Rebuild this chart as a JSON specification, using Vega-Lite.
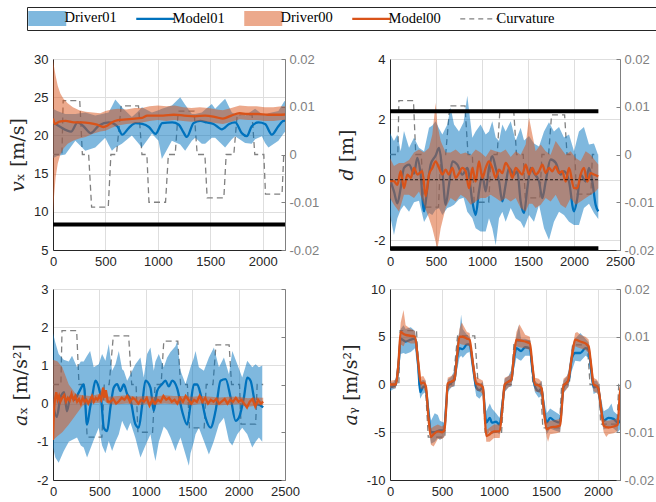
{
"$schema": "https://vega.github.io/schema/vega-lite/v6.json",
"background": "white",
"padding": {"left": 8, "top": 6, "right": 0, "bottom": 0},
"config": {
  "view": {"stroke": "#c8c8c8", "strokeWidth": 1},
  "axis": {"labelFont": "Liberation Sans", "labelFontSize": 13, "labelColor": "#262626", "domainColor": "#262626", "domainWidth": 1, "gridColor": "#dedede", "gridWidth": 1, "ticks": false, "titleFont": "DejaVu Serif", "titleFontSize": 19, "titleFontWeight": "normal", "titleColor": "#262626", "labelPadding": 5, "labelFlush": false, "labelOverlap": false}
},
"datasets": {
"curv": [{"s":0,"k":0},{"s":85,"k":0},{"s":97,"k":0.0113},{"s":255,"k":0.0113},{"s":280,"k":0},{"s":340,"k":0},{"s":368,"k":-0.011},{"s":527,"k":-0.011},{"s":552,"k":0},{"s":605,"k":0},{"s":650,"k":0.0102},{"s":815,"k":0.0102},{"s":848,"k":0},{"s":895,"k":0},{"s":915,"k":-0.01},{"s":1073,"k":-0.01},{"s":1100,"k":0},{"s":1165,"k":0},{"s":1194,"k":0.0091},{"s":1345,"k":0.0091},{"s":1375,"k":0},{"s":1448,"k":0},{"s":1470,"k":-0.0091},{"s":1629,"k":-0.0091},{"s":1651,"k":0},{"s":1724,"k":0},{"s":1756,"k":0.0083},{"s":1898,"k":0.0083},{"s":1924,"k":0},{"s":2010,"k":0},{"s":2026,"k":-0.0083},{"s":2184,"k":-0.0083},{"s":2200,"k":0},{"s":2265,"k":0}],
"lim": [{"panel":"vx","id":"a","s":0,"v":8.33},{"panel":"vx","id":"a","s":2270,"v":8.33},{"panel":"d","id":"up","s":0,"v":2.27},{"panel":"d","id":"up","s":2265,"v":2.27},{"panel":"d","id":"lo","s":0,"v":-2.27},{"panel":"d","id":"lo","s":2265,"v":-2.27},{"panel":"d0","id":"zero","s":0,"v":0},{"panel":"d0","id":"zero","s":2265,"v":0}],
"vx": [
{"series":"Driver01","s":0,"v":17.0,"v2":23.5},{"series":"Driver01","s":40,"v":17.3,"v2":23.2},{"series":"Driver01","s":117,"v":17.5,"v2":22.8},{"series":"Driver01","s":213,"v":19.3,"v2":22.8},{"series":"Driver01","s":308,"v":18.0,"v2":23.0},{"series":"Driver01","s":403,"v":18.4,"v2":22.6},{"series":"Driver01","s":498,"v":19.7,"v2":22.9},{"series":"Driver01","s":530,"v":18.8,"v2":23.0},{"series":"Driver01","s":562,"v":18.0,"v2":23.8},{"series":"Driver01","s":594,"v":18.4,"v2":24.7},{"series":"Driver01","s":657,"v":18.9,"v2":23.7},{"series":"Driver01","s":752,"v":20.0,"v2":22.4},{"series":"Driver01","s":800,"v":19.2,"v2":23.0},{"series":"Driver01","s":848,"v":18.4,"v2":23.7},{"series":"Driver01","s":943,"v":20.2,"v2":23.0},{"series":"Driver01","s":1006,"v":19.3,"v2":23.3},{"series":"Driver01","s":1038,"v":16.9,"v2":23.5},{"series":"Driver01","s":1133,"v":19.3,"v2":23.9},{"series":"Driver01","s":1213,"v":18.8,"v2":25.0},{"series":"Driver01","s":1260,"v":18.0,"v2":24.0},{"series":"Driver01","s":1324,"v":19.3,"v2":22.8},{"series":"Driver01","s":1356,"v":19.7,"v2":22.8},{"series":"Driver01","s":1419,"v":18.9,"v2":23.0},{"series":"Driver01","s":1451,"v":18.9,"v2":23.4},{"series":"Driver01","s":1514,"v":19.7,"v2":24.1},{"series":"Driver01","s":1546,"v":19.7,"v2":23.5},{"series":"Driver01","s":1641,"v":18.4,"v2":24.8},{"series":"Driver01","s":1705,"v":19.5,"v2":23.0},{"series":"Driver01","s":1736,"v":19.9,"v2":22.8},{"series":"Driver01","s":1800,"v":19.3,"v2":22.6},{"series":"Driver01","s":1832,"v":19.0,"v2":22.6},{"series":"Driver01","s":1895,"v":18.9,"v2":23.2},{"series":"Driver01","s":1927,"v":19.5,"v2":23.5},{"series":"Driver01","s":1991,"v":19.9,"v2":22.8},{"series":"Driver01","s":2022,"v":19.0,"v2":22.6},{"series":"Driver01","s":2054,"v":18.4,"v2":22.9},{"series":"Driver01","s":2149,"v":19.3,"v2":23.2},{"series":"Driver01","s":2207,"v":20.4,"v2":24.5},{"series":"Driver01","s":2240,"v":20.5,"v2":24.3},{"series":"Driver01","s":2270,"v":20.6,"v2":24.0},
{"series":"Model01","s":0,"v":21.7},{"series":"Model01","s":60,"v":21.2},{"series":"Model01","s":172,"v":20.5},{"series":"Model01","s":235,"v":21.7},{"series":"Model01","s":290,"v":21.2},{"series":"Model01","s":360,"v":20.3},{"series":"Model01","s":438,"v":21.3},{"series":"Model01","s":533,"v":21.7},{"series":"Model01","s":613,"v":21.2},{"series":"Model01","s":660,"v":20.1},{"series":"Model01","s":724,"v":21.0},{"series":"Model01","s":787,"v":21.6},{"series":"Model01","s":851,"v":21.5},{"series":"Model01","s":914,"v":21.1},{"series":"Model01","s":978,"v":20.2},{"series":"Model01","s":1041,"v":21.6},{"series":"Model01","s":1137,"v":21.7},{"series":"Model01","s":1200,"v":21.4},{"series":"Model01","s":1240,"v":20.5},{"series":"Model01","s":1276,"v":19.8},{"series":"Model01","s":1340,"v":21.6},{"series":"Model01","s":1403,"v":21.9},{"series":"Model01","s":1467,"v":21.7},{"series":"Model01","s":1530,"v":21.5},{"series":"Model01","s":1610,"v":20.8},{"series":"Model01","s":1680,"v":21.5},{"series":"Model01","s":1737,"v":21.7},{"series":"Model01","s":1800,"v":20.3},{"series":"Model01","s":1848,"v":19.9},{"series":"Model01","s":1895,"v":21.2},{"series":"Model01","s":1959,"v":21.7},{"series":"Model01","s":2022,"v":21.5},{"series":"Model01","s":2086,"v":20.1},{"series":"Model01","s":2149,"v":21.2},{"series":"Model01","s":2197,"v":21.9},{"series":"Model01","s":2270,"v":22.0},
{"series":"Driver00","s":0,"v":9.5,"v2":30.0},{"series":"Driver00","s":10,"v":12.0,"v2":29.0},{"series":"Driver00","s":25,"v":14.5,"v2":27.8},{"series":"Driver00","s":45,"v":16.3,"v2":26.5},{"series":"Driver00","s":70,"v":17.5,"v2":25.5},{"series":"Driver00","s":100,"v":18.3,"v2":24.8},{"series":"Driver00","s":140,"v":18.9,"v2":24.2},{"series":"Driver00","s":190,"v":19.3,"v2":23.7},{"series":"Driver00","s":250,"v":19.6,"v2":23.3},{"series":"Driver00","s":310,"v":19.8,"v2":23.1},{"series":"Driver00","s":380,"v":20.2,"v2":23.0},{"series":"Driver00","s":450,"v":20.5,"v2":22.9},{"series":"Driver00","s":500,"v":20.6,"v2":23.2},{"series":"Driver00","s":560,"v":21.0,"v2":23.4},{"series":"Driver00","s":620,"v":21.3,"v2":23.5},{"series":"Driver00","s":700,"v":21.5,"v2":23.4},{"series":"Driver00","s":780,"v":21.6,"v2":23.6},{"series":"Driver00","s":850,"v":21.7,"v2":23.6},{"series":"Driver00","s":920,"v":21.9,"v2":23.8},{"series":"Driver00","s":1000,"v":22.0,"v2":23.9},{"series":"Driver00","s":1080,"v":21.9,"v2":23.8},{"series":"Driver00","s":1160,"v":22.0,"v2":23.9},{"series":"Driver00","s":1240,"v":21.9,"v2":23.7},{"series":"Driver00","s":1320,"v":21.8,"v2":23.6},{"series":"Driver00","s":1400,"v":21.9,"v2":23.7},{"series":"Driver00","s":1480,"v":21.8,"v2":23.6},{"series":"Driver00","s":1560,"v":21.6,"v2":23.4},{"series":"Driver00","s":1620,"v":21.5,"v2":23.3},{"series":"Driver00","s":1700,"v":21.8,"v2":23.6},{"series":"Driver00","s":1780,"v":22.1,"v2":23.9},{"series":"Driver00","s":1860,"v":22.0,"v2":23.8},{"series":"Driver00","s":1940,"v":22.0,"v2":23.8},{"series":"Driver00","s":2020,"v":21.9,"v2":23.7},{"series":"Driver00","s":2100,"v":21.9,"v2":23.7},{"series":"Driver00","s":2180,"v":22.0,"v2":23.8},{"series":"Driver00","s":2270,"v":22.0,"v2":23.8},
{"series":"Model00","s":0,"v":22.2},{"series":"Model00","s":20,"v":21.5},{"series":"Model00","s":60,"v":21.8},{"series":"Model00","s":120,"v":21.9},{"series":"Model00","s":200,"v":21.7},{"series":"Model00","s":280,"v":21.7},{"series":"Model00","s":350,"v":21.6},{"series":"Model00","s":420,"v":21.4},{"series":"Model00","s":480,"v":21.1},{"series":"Model00","s":520,"v":21.3},{"series":"Model00","s":560,"v":21.7},{"series":"Model00","s":620,"v":22.0},{"series":"Model00","s":700,"v":22.1},{"series":"Model00","s":780,"v":22.2},{"series":"Model00","s":850,"v":22.3},{"series":"Model00","s":900,"v":22.6},{"series":"Model00","s":960,"v":22.6},{"series":"Model00","s":1050,"v":22.6},{"series":"Model00","s":1150,"v":22.7},{"series":"Model00","s":1250,"v":22.6},{"series":"Model00","s":1350,"v":22.5},{"series":"Model00","s":1450,"v":22.6},{"series":"Model00","s":1550,"v":22.4},{"series":"Model00","s":1620,"v":22.2},{"series":"Model00","s":1700,"v":22.6},{"series":"Model00","s":1780,"v":22.9},{"series":"Model00","s":1850,"v":22.8},{"series":"Model00","s":1950,"v":22.8},{"series":"Model00","s":2050,"v":22.7},{"series":"Model00","s":2150,"v":22.7},{"series":"Model00","s":2270,"v":22.8}
],
"dd": [
{"series":"Driver01","s":0,"v":-1.17,"v2":1.55},{"series":"Driver01","s":43,"v":-1.83,"v2":1.28},{"series":"Driver01","s":80,"v":-1.28,"v2":1.5},{"series":"Driver01","s":116,"v":-1.0,"v2":0.94},{"series":"Driver01","s":152,"v":-0.85,"v2":1.61},{"series":"Driver01","s":207,"v":-1.06,"v2":1.06},{"series":"Driver01","s":261,"v":-0.75,"v2":1.39},{"series":"Driver01","s":315,"v":-0.7,"v2":1.06},{"series":"Driver01","s":370,"v":-1.4,"v2":0.94},{"series":"Driver01","s":424,"v":-1.1,"v2":1.72},{"series":"Driver01","s":460,"v":-1.17,"v2":1.8},{"series":"Driver01","s":496,"v":-1.0,"v2":1.94},{"series":"Driver01","s":533,"v":-0.95,"v2":1.7},{"series":"Driver01","s":569,"v":-1.17,"v2":1.5},{"series":"Driver01","s":623,"v":-0.94,"v2":1.83},{"series":"Driver01","s":659,"v":-0.9,"v2":2.39},{"series":"Driver01","s":696,"v":-0.83,"v2":1.83},{"series":"Driver01","s":750,"v":-0.65,"v2":1.6},{"series":"Driver01","s":800,"v":-0.6,"v2":1.9},{"series":"Driver01","s":840,"v":-1.06,"v2":2.78},{"series":"Driver01","s":895,"v":-1.28,"v2":1.39},{"series":"Driver01","s":931,"v":-1.61,"v2":1.6},{"series":"Driver01","s":985,"v":-1.72,"v2":1.83},{"series":"Driver01","s":1040,"v":-1.72,"v2":1.5},{"series":"Driver01","s":1076,"v":-1.28,"v2":1.6},{"series":"Driver01","s":1112,"v":-1.61,"v2":1.94},{"series":"Driver01","s":1149,"v":-2.17,"v2":1.4},{"series":"Driver01","s":1185,"v":-1.28,"v2":1.28},{"series":"Driver01","s":1221,"v":-1.06,"v2":1.83},{"series":"Driver01","s":1257,"v":-1.39,"v2":1.6},{"series":"Driver01","s":1312,"v":-0.94,"v2":1.94},{"series":"Driver01","s":1366,"v":-1.28,"v2":1.28},{"series":"Driver01","s":1420,"v":-1.39,"v2":1.72},{"series":"Driver01","s":1457,"v":-1.61,"v2":1.3},{"series":"Driver01","s":1511,"v":-1.17,"v2":1.45},{"series":"Driver01","s":1565,"v":-1.39,"v2":1.2},{"series":"Driver01","s":1620,"v":-0.83,"v2":1.1},{"series":"Driver01","s":1674,"v":-1.61,"v2":1.6},{"series":"Driver01","s":1728,"v":-2.0,"v2":1.9},{"series":"Driver01","s":1782,"v":-1.39,"v2":1.6},{"series":"Driver01","s":1837,"v":-1.06,"v2":1.75},{"series":"Driver01","s":1891,"v":-1.17,"v2":1.4},{"series":"Driver01","s":1946,"v":-1.39,"v2":1.5},{"series":"Driver01","s":2000,"v":-1.5,"v2":0.94},{"series":"Driver01","s":2054,"v":-1.5,"v2":1.6},{"series":"Driver01","s":2108,"v":-0.94,"v2":1.75},{"series":"Driver01","s":2163,"v":-0.8,"v2":1.17},{"series":"Driver01","s":2217,"v":-1.1,"v2":1.2},{"series":"Driver01","s":2264,"v":-1.3,"v2":0.8},
{"series":"Model01","s":0,"v":0},{"series":"Model01","s":43,"v":-0.39},{"series":"Model01","s":80,"v":-0.78},{"series":"Model01","s":116,"v":-0.28},{"series":"Model01","s":152,"v":0.39},{"series":"Model01","s":207,"v":0.5},{"series":"Model01","s":261,"v":0.2},{"series":"Model01","s":297,"v":0.72},{"series":"Model01","s":333,"v":0.17},{"series":"Model01","s":370,"v":-1.05},{"series":"Model01","s":406,"v":-0.28},{"series":"Model01","s":442,"v":0.5},{"series":"Model01","s":496,"v":0.8},{"series":"Model01","s":533,"v":1.05},{"series":"Model01","s":569,"v":0.28},{"series":"Model01","s":605,"v":-0.83},{"series":"Model01","s":641,"v":-0.17},{"series":"Model01","s":678,"v":0.61},{"series":"Model01","s":732,"v":0.5},{"series":"Model01","s":786,"v":0.17},{"series":"Model01","s":841,"v":0.39},{"series":"Model01","s":895,"v":-0.72},{"series":"Model01","s":931,"v":-1.17},{"series":"Model01","s":967,"v":-0.39},{"series":"Model01","s":1004,"v":0.17},{"series":"Model01","s":1040,"v":-0.39},{"series":"Model01","s":1076,"v":0.39},{"series":"Model01","s":1112,"v":0.78},{"series":"Model01","s":1149,"v":0.39},{"series":"Model01","s":1185,"v":-0.06},{"series":"Model01","s":1221,"v":-0.72},{"series":"Model01","s":1257,"v":-0.17},{"series":"Model01","s":1293,"v":0.39},{"series":"Model01","s":1348,"v":0.17},{"series":"Model01","s":1384,"v":0.28},{"series":"Model01","s":1420,"v":-0.72},{"series":"Model01","s":1457,"v":-1.11},{"series":"Model01","s":1493,"v":-0.28},{"series":"Model01","s":1529,"v":0.39},{"series":"Model01","s":1565,"v":0.22},{"series":"Model01","s":1620,"v":-0.06},{"series":"Model01","s":1656,"v":-0.61},{"series":"Model01","s":1692,"v":-0.06},{"series":"Model01","s":1746,"v":0.67},{"series":"Model01","s":1801,"v":0.56},{"series":"Model01","s":1855,"v":0.17},{"series":"Model01","s":1891,"v":0.28},{"series":"Model01","s":1946,"v":-0.06},{"series":"Model01","s":2000,"v":-1.05},{"series":"Model01","s":2036,"v":-0.61},{"series":"Model01","s":2072,"v":0.17},{"series":"Model01","s":2127,"v":-0.06},{"series":"Model01","s":2163,"v":0.39},{"series":"Model01","s":2199,"v":-0.06},{"series":"Model01","s":2235,"v":-0.83},{"series":"Model01","s":2264,"v":-1.05},
{"series":"Driver00","s":0,"v":-0.61,"v2":0.72},{"series":"Driver00","s":43,"v":-0.83,"v2":0.45},{"series":"Driver00","s":98,"v":-1.05,"v2":0.55},{"series":"Driver00","s":152,"v":-0.5,"v2":0.55},{"series":"Driver00","s":207,"v":-0.5,"v2":0.65},{"series":"Driver00","s":261,"v":-0.61,"v2":0.9},{"series":"Driver00","s":315,"v":-0.39,"v2":1.0},{"series":"Driver00","s":370,"v":-0.83,"v2":0.9},{"series":"Driver00","s":424,"v":-1.28,"v2":1.05},{"series":"Driver00","s":460,"v":-1.61,"v2":1.5},{"series":"Driver00","s":496,"v":-2.06,"v2":2.55},{"series":"Driver00","s":514,"v":-2.33,"v2":1.83},{"series":"Driver00","s":551,"v":-1.61,"v2":1.28},{"series":"Driver00","s":605,"v":-0.94,"v2":0.9},{"series":"Driver00","s":659,"v":-0.61,"v2":0.9},{"series":"Driver00","s":714,"v":-0.72,"v2":1.0},{"series":"Driver00","s":768,"v":-0.5,"v2":0.85},{"series":"Driver00","s":822,"v":-0.61,"v2":0.9},{"series":"Driver00","s":877,"v":-0.83,"v2":0.8},{"series":"Driver00","s":931,"v":-0.72,"v2":1.0},{"series":"Driver00","s":985,"v":-0.61,"v2":0.9},{"series":"Driver00","s":1040,"v":-0.61,"v2":0.75},{"series":"Driver00","s":1094,"v":-0.5,"v2":1.0},{"series":"Driver00","s":1149,"v":-0.61,"v2":0.94},{"series":"Driver00","s":1203,"v":-0.72,"v2":0.9},{"series":"Driver00","s":1257,"v":-0.61,"v2":1.0},{"series":"Driver00","s":1312,"v":-0.72,"v2":0.75},{"series":"Driver00","s":1366,"v":-0.61,"v2":0.94},{"series":"Driver00","s":1420,"v":-0.94,"v2":0.83},{"series":"Driver00","s":1475,"v":-1.05,"v2":1.17},{"series":"Driver00","s":1511,"v":-0.8,"v2":2.06},{"series":"Driver00","s":1547,"v":-0.8,"v2":1.5},{"series":"Driver00","s":1583,"v":-0.94,"v2":0.94},{"series":"Driver00","s":1638,"v":-0.83,"v2":1.17},{"series":"Driver00","s":1692,"v":-0.61,"v2":0.94},{"series":"Driver00","s":1746,"v":-0.72,"v2":0.83},{"series":"Driver00","s":1801,"v":-0.5,"v2":1.28},{"series":"Driver00","s":1855,"v":-0.83,"v2":1.05},{"series":"Driver00","s":1909,"v":-0.94,"v2":0.83},{"series":"Driver00","s":1964,"v":-0.61,"v2":0.94},{"series":"Driver00","s":2018,"v":-0.83,"v2":0.72},{"series":"Driver00","s":2072,"v":-0.72,"v2":0.61},{"series":"Driver00","s":2127,"v":-0.61,"v2":0.94},{"series":"Driver00","s":2181,"v":-0.5,"v2":0.83},{"series":"Driver00","s":2235,"v":-0.39,"v2":0.61},{"series":"Driver00","s":2264,"v":-0.28,"v2":0.5},
{"series":"Model00","s":0,"v":-0.05},{"series":"Model00","s":43,"v":-0.05},{"series":"Model00","s":80,"v":-0.17},{"series":"Model00","s":116,"v":0.28},{"series":"Model00","s":152,"v":-0.28},{"series":"Model00","s":188,"v":0.17},{"series":"Model00","s":225,"v":0.06},{"series":"Model00","s":261,"v":0.39},{"series":"Model00","s":297,"v":0.17},{"series":"Model00","s":351,"v":0.28},{"series":"Model00","s":388,"v":-0.55},{"series":"Model00","s":424,"v":0.17},{"series":"Model00","s":460,"v":0.39},{"series":"Model00","s":496,"v":0.61},{"series":"Model00","s":533,"v":0.39},{"series":"Model00","s":569,"v":0.17},{"series":"Model00","s":605,"v":0.33},{"series":"Model00","s":641,"v":0.17},{"series":"Model00","s":678,"v":0.39},{"series":"Model00","s":714,"v":0.06},{"series":"Model00","s":750,"v":0.22},{"series":"Model00","s":786,"v":0.39},{"series":"Model00","s":822,"v":0.28},{"series":"Model00","s":859,"v":-0.28},{"series":"Model00","s":895,"v":0.39},{"series":"Model00","s":931,"v":-0.06},{"series":"Model00","s":967,"v":0.61},{"series":"Model00","s":1004,"v":0.06},{"series":"Model00","s":1040,"v":0.39},{"series":"Model00","s":1076,"v":0.61},{"series":"Model00","s":1112,"v":0.39},{"series":"Model00","s":1149,"v":0.06},{"series":"Model00","s":1185,"v":0.33},{"series":"Model00","s":1221,"v":0.22},{"series":"Model00","s":1257,"v":0.56},{"series":"Model00","s":1293,"v":0.39},{"series":"Model00","s":1330,"v":0.06},{"series":"Model00","s":1366,"v":0.39},{"series":"Model00","s":1402,"v":0.28},{"series":"Model00","s":1438,"v":0.17},{"series":"Model00","s":1475,"v":0.5},{"series":"Model00","s":1511,"v":0.17},{"series":"Model00","s":1547,"v":0.39},{"series":"Model00","s":1583,"v":0.17},{"series":"Model00","s":1620,"v":0.28},{"series":"Model00","s":1656,"v":0.5},{"series":"Model00","s":1692,"v":0.22},{"series":"Model00","s":1728,"v":0.39},{"series":"Model00","s":1764,"v":0.28},{"series":"Model00","s":1801,"v":0.44},{"series":"Model00","s":1837,"v":0.22},{"series":"Model00","s":1873,"v":0.28},{"series":"Model00","s":1909,"v":-0.06},{"series":"Model00","s":1946,"v":0.39},{"series":"Model00","s":2000,"v":-0.28},{"series":"Model00","s":2036,"v":-0.28},{"series":"Model00","s":2072,"v":0.17},{"series":"Model00","s":2108,"v":0.39},{"series":"Model00","s":2145,"v":-0.06},{"series":"Model00","s":2181,"v":0.22},{"series":"Model00","s":2217,"v":0.17},{"series":"Model00","s":2264,"v":0.11}
],
"ax": [
{"series":"Driver01","s":0,"v":-1.15,"v2":1.85},{"series":"Driver01","s":25,"v":-1.41,"v2":1.6},{"series":"Driver01","s":61,"v":-1.55,"v2":1.3},{"series":"Driver01","s":115,"v":-1.25,"v2":1.15},{"series":"Driver01","s":170,"v":-1.0,"v2":1.1},{"series":"Driver01","s":205,"v":-0.95,"v2":1.25},{"series":"Driver01","s":259,"v":-0.89,"v2":0.95},{"series":"Driver01","s":300,"v":-1.1,"v2":1.1},{"series":"Driver01","s":331,"v":-1.15,"v2":1.1},{"series":"Driver01","s":367,"v":-1.41,"v2":1.25},{"series":"Driver01","s":400,"v":-1.2,"v2":1.38},{"series":"Driver01","s":439,"v":-0.95,"v2":0.95},{"series":"Driver01","s":493,"v":-0.63,"v2":1.03},{"series":"Driver01","s":529,"v":-1.1,"v2":1.3},{"series":"Driver01","s":565,"v":-1.3,"v2":1.12},{"series":"Driver01","s":601,"v":-0.98,"v2":1.56},{"series":"Driver01","s":637,"v":-1.24,"v2":0.86},{"series":"Driver01","s":673,"v":-1.0,"v2":1.03},{"series":"Driver01","s":709,"v":-0.8,"v2":1.38},{"series":"Driver01","s":745,"v":-0.45,"v2":0.9},{"series":"Driver01","s":763,"v":-0.55,"v2":0.86},{"series":"Driver01","s":799,"v":-0.72,"v2":0.6},{"series":"Driver01","s":835,"v":-0.5,"v2":0.77},{"series":"Driver01","s":888,"v":-0.9,"v2":1.03},{"series":"Driver01","s":942,"v":-1.41,"v2":1.21},{"series":"Driver01","s":978,"v":-1.2,"v2":0.68},{"series":"Driver01","s":1014,"v":-1.0,"v2":1.3},{"series":"Driver01","s":1050,"v":-0.8,"v2":1.47},{"series":"Driver01","s":1086,"v":-1.3,"v2":0.86},{"series":"Driver01","s":1104,"v":-1.5,"v2":1.1},{"series":"Driver01","s":1140,"v":-1.0,"v2":1.3},{"series":"Driver01","s":1194,"v":-0.6,"v2":0.95},{"series":"Driver01","s":1230,"v":-0.7,"v2":1.21},{"series":"Driver01","s":1266,"v":-0.89,"v2":1.35},{"series":"Driver01","s":1320,"v":-1.24,"v2":1.5},{"series":"Driver01","s":1338,"v":-1.1,"v2":1.64},{"series":"Driver01","s":1374,"v":-0.89,"v2":0.86},{"series":"Driver01","s":1428,"v":-1.33,"v2":0.51},{"series":"Driver01","s":1464,"v":-1.63,"v2":0.8},{"series":"Driver01","s":1482,"v":-1.3,"v2":0.95},{"series":"Driver01","s":1518,"v":-1.0,"v2":1.2},{"series":"Driver01","s":1536,"v":-0.8,"v2":1.38},{"series":"Driver01","s":1572,"v":-0.63,"v2":0.95},{"series":"Driver01","s":1626,"v":-0.98,"v2":0.86},{"series":"Driver01","s":1680,"v":-1.33,"v2":1.21},{"series":"Driver01","s":1734,"v":-0.98,"v2":1.47},{"series":"Driver01","s":1788,"v":-0.54,"v2":0.95},{"series":"Driver01","s":1842,"v":-0.37,"v2":1.21},{"series":"Driver01","s":1896,"v":-0.98,"v2":0.77},{"series":"Driver01","s":1932,"v":-1.1,"v2":1.38},{"series":"Driver01","s":1986,"v":-0.8,"v2":1.03},{"series":"Driver01","s":2039,"v":-0.63,"v2":0.68},{"series":"Driver01","s":2093,"v":-0.8,"v2":1.12},{"series":"Driver01","s":2147,"v":-1.15,"v2":0.95},{"series":"Driver01","s":2183,"v":-1.0,"v2":1.03},{"series":"Driver01","s":2219,"v":-0.89,"v2":0.95},{"series":"Driver01","s":2255,"v":-1.0,"v2":1.0},
{"series":"Model01","s":0,"v":0.0},{"series":"Model01","s":40,"v":-0.35},{"series":"Model01","s":80,"v":0.15},{"series":"Model01","s":120,"v":0.3},{"series":"Model01","s":150,"v":-0.2},{"series":"Model01","s":190,"v":0.2},{"series":"Model01","s":230,"v":0.1},{"series":"Model01","s":280,"v":0.3},{"series":"Model01","s":331,"v":0.5},{"series":"Model01","s":367,"v":-0.55},{"series":"Model01","s":400,"v":-0.1},{"series":"Model01","s":421,"v":0.16},{"series":"Model01","s":457,"v":0.6},{"series":"Model01","s":493,"v":0.42},{"series":"Model01","s":520,"v":0.1},{"series":"Model01","s":547,"v":-0.63},{"series":"Model01","s":583,"v":-0.72},{"series":"Model01","s":619,"v":-0.1},{"series":"Model01","s":655,"v":0.42},{"series":"Model01","s":691,"v":0.51},{"series":"Model01","s":727,"v":0.33},{"series":"Model01","s":763,"v":0.5},{"series":"Model01","s":799,"v":0.25},{"series":"Model01","s":835,"v":0.1},{"series":"Model01","s":888,"v":-0.54},{"series":"Model01","s":924,"v":-0.63},{"series":"Model01","s":960,"v":-0.05},{"series":"Model01","s":996,"v":0.6},{"series":"Model01","s":1050,"v":0.42},{"series":"Model01","s":1086,"v":-0.19},{"series":"Model01","s":1122,"v":0.33},{"series":"Model01","s":1176,"v":0.51},{"series":"Model01","s":1212,"v":0.6},{"series":"Model01","s":1248,"v":0.45},{"series":"Model01","s":1284,"v":0.6},{"series":"Model01","s":1338,"v":0.4},{"series":"Model01","s":1392,"v":-0.2},{"series":"Model01","s":1446,"v":-0.55},{"series":"Model01","s":1482,"v":-0.02},{"series":"Model01","s":1518,"v":0.5},{"series":"Model01","s":1554,"v":0.5},{"series":"Model01","s":1590,"v":0.25},{"series":"Model01","s":1644,"v":-0.37},{"series":"Model01","s":1698,"v":-0.63},{"series":"Model01","s":1752,"v":-0.19},{"series":"Model01","s":1806,"v":0.6},{"series":"Model01","s":1860,"v":0.64},{"series":"Model01","s":1914,"v":0.16},{"series":"Model01","s":1968,"v":-0.45},{"series":"Model01","s":2003,"v":-0.37},{"series":"Model01","s":2057,"v":0.16},{"series":"Model01","s":2093,"v":0.68},{"series":"Model01","s":2129,"v":0.6},{"series":"Model01","s":2183,"v":0.0},{"series":"Model01","s":2237,"v":-0.05},{"series":"Model01","s":2265,"v":-0.1},
{"series":"Driver00","s":0,"v":-0.95,"v2":1.15},{"series":"Driver00","s":50,"v":-0.85,"v2":1.1},{"series":"Driver00","s":100,"v":-0.75,"v2":0.95},{"series":"Driver00","s":170,"v":-0.55,"v2":0.5},{"series":"Driver00","s":245,"v":-0.3,"v2":0.25},{"series":"Driver00","s":320,"v":-0.05,"v2":0.22},{"series":"Driver00","s":400,"v":0.0,"v2":0.2},{"series":"Driver00","s":500,"v":0.02,"v2":0.25},{"series":"Driver00","s":540,"v":0.1,"v2":0.45},{"series":"Driver00","s":600,"v":-0.02,"v2":0.18},{"series":"Driver00","s":700,"v":-0.02,"v2":0.2},{"series":"Driver00","s":800,"v":0.0,"v2":0.22},{"series":"Driver00","s":900,"v":-0.04,"v2":0.18},{"series":"Driver00","s":1000,"v":-0.02,"v2":0.2},{"series":"Driver00","s":1100,"v":-0.03,"v2":0.18},{"series":"Driver00","s":1200,"v":0.0,"v2":0.22},{"series":"Driver00","s":1300,"v":-0.02,"v2":0.2},{"series":"Driver00","s":1400,"v":-0.02,"v2":0.2},{"series":"Driver00","s":1500,"v":-0.04,"v2":0.18},{"series":"Driver00","s":1600,"v":0.0,"v2":0.2},{"series":"Driver00","s":1700,"v":-0.03,"v2":0.18},{"series":"Driver00","s":1800,"v":-0.04,"v2":0.16},{"series":"Driver00","s":1900,"v":-0.03,"v2":0.18},{"series":"Driver00","s":2000,"v":-0.02,"v2":0.18},{"series":"Driver00","s":2100,"v":-0.08,"v2":0.14},{"series":"Driver00","s":2200,"v":-0.05,"v2":0.16},{"series":"Driver00","s":2265,"v":-0.04,"v2":0.15},
{"series":"Model00","s":0,"v":-0.95},{"series":"Model00","s":10,"v":-0.2},{"series":"Model00","s":20,"v":0.1},{"series":"Model00","s":35,"v":0.3},{"series":"Model00","s":50,"v":0.1},{"series":"Model00","s":65,"v":0.2},{"series":"Model00","s":80,"v":0.05},{"series":"Model00","s":100,"v":0.15},{"series":"Model00","s":120,"v":0.22},{"series":"Model00","s":140,"v":0.05},{"series":"Model00","s":160,"v":0.15},{"series":"Model00","s":180,"v":0.08},{"series":"Model00","s":200,"v":0.25},{"series":"Model00","s":220,"v":0.1},{"series":"Model00","s":240,"v":0.2},{"series":"Model00","s":260,"v":0.05},{"series":"Model00","s":280,"v":0.12},{"series":"Model00","s":300,"v":0.0},{"series":"Model00","s":320,"v":0.15},{"series":"Model00","s":340,"v":0.05},{"series":"Model00","s":360,"v":0.1},{"series":"Model00","s":380,"v":0.0},{"series":"Model00","s":400,"v":0.1},{"series":"Model00","s":420,"v":0.2},{"series":"Model00","s":440,"v":0.05},{"series":"Model00","s":460,"v":0.15},{"series":"Model00","s":480,"v":0.1},{"series":"Model00","s":500,"v":0.2},{"series":"Model00","s":520,"v":0.1},{"series":"Model00","s":540,"v":0.42},{"series":"Model00","s":555,"v":0.15},{"series":"Model00","s":570,"v":0.35},{"series":"Model00","s":590,"v":0.05},{"series":"Model00","s":620,"v":0.05},{"series":"Model00","s":650,"v":0.12},{"series":"Model00","s":680,"v":0.0},{"series":"Model00","s":710,"v":0.06},{"series":"Model00","s":740,"v":0.15},{"series":"Model00","s":770,"v":0.1},{"series":"Model00","s":800,"v":0.2},{"series":"Model00","s":830,"v":0.05},{"series":"Model00","s":860,"v":0.15},{"series":"Model00","s":890,"v":0.1},{"series":"Model00","s":920,"v":0.0},{"series":"Model00","s":950,"v":0.1},{"series":"Model00","s":980,"v":0.05},{"series":"Model00","s":1010,"v":0.15},{"series":"Model00","s":1040,"v":-0.05},{"series":"Model00","s":1070,"v":0.1},{"series":"Model00","s":1100,"v":0.0},{"series":"Model00","s":1130,"v":0.1},{"series":"Model00","s":1160,"v":0.05},{"series":"Model00","s":1190,"v":0.2},{"series":"Model00","s":1220,"v":0.1},{"series":"Model00","s":1250,"v":0.15},{"series":"Model00","s":1280,"v":0.05},{"series":"Model00","s":1310,"v":0.1},{"series":"Model00","s":1340,"v":0.0},{"series":"Model00","s":1370,"v":0.15},{"series":"Model00","s":1400,"v":0.05},{"series":"Model00","s":1430,"v":0.2},{"series":"Model00","s":1460,"v":0.1},{"series":"Model00","s":1490,"v":0.0},{"series":"Model00","s":1520,"v":0.1},{"series":"Model00","s":1550,"v":0.05},{"series":"Model00","s":1580,"v":0.2},{"series":"Model00","s":1610,"v":0.05},{"series":"Model00","s":1640,"v":0.15},{"series":"Model00","s":1670,"v":0.0},{"series":"Model00","s":1700,"v":0.1},{"series":"Model00","s":1730,"v":0.05},{"series":"Model00","s":1760,"v":0.12},{"series":"Model00","s":1790,"v":0.0},{"series":"Model00","s":1820,"v":0.06},{"series":"Model00","s":1850,"v":0.12},{"series":"Model00","s":1880,"v":0.0},{"series":"Model00","s":1910,"v":0.1},{"series":"Model00","s":1940,"v":0.05},{"series":"Model00","s":1970,"v":0.15},{"series":"Model00","s":2000,"v":0.05},{"series":"Model00","s":2030,"v":0.1},{"series":"Model00","s":2060,"v":0.0},{"series":"Model00","s":2090,"v":-0.1},{"series":"Model00","s":2120,"v":0.05},{"series":"Model00","s":2150,"v":0.12},{"series":"Model00","s":2180,"v":-0.08},{"series":"Model00","s":2210,"v":0.1},{"series":"Model00","s":2240,"v":0.0},{"series":"Model00","s":2265,"v":0.05}
],
"ay": [
{"series":"Driver01","s":0,"v":-0.7,"v2":0.2},{"series":"Driver01","s":30,"v":-0.5,"v2":0.2},{"series":"Driver01","s":55,"v":-0.4,"v2":0.6},{"series":"Driver01","s":80,"v":0.8,"v2":3.0},{"series":"Driver01","s":103,"v":3.2,"v2":5.8},{"series":"Driver01","s":130,"v":3.3,"v2":6.2},{"series":"Driver01","s":150,"v":3.2,"v2":5.8},{"series":"Driver01","s":200,"v":3.4,"v2":6.0},{"series":"Driver01","s":240,"v":3.8,"v2":5.6},{"series":"Driver01","s":270,"v":1.0,"v2":3.5},{"series":"Driver01","s":290,"v":-1.5,"v2":0.2},{"series":"Driver01","s":315,"v":-1.0,"v2":0.5},{"series":"Driver01","s":340,"v":-0.8,"v2":0.4},{"series":"Driver01","s":370,"v":-4.2,"v2":-1.8},{"series":"Driver01","s":394,"v":-6.2,"v2":-3.8},{"series":"Driver01","s":430,"v":-6.0,"v2":-3.0},{"series":"Driver01","s":460,"v":-5.6,"v2":-3.2},{"series":"Driver01","s":480,"v":-5.8,"v2":-3.8},{"series":"Driver01","s":520,"v":-5.5,"v2":-4.0},{"series":"Driver01","s":540,"v":-3.2,"v2":-1.2},{"series":"Driver01","s":555,"v":-0.8,"v2":0.5},{"series":"Driver01","s":590,"v":-0.3,"v2":0.8},{"series":"Driver01","s":620,"v":-0.2,"v2":1.5},{"series":"Driver01","s":645,"v":1.5,"v2":4.5},{"series":"Driver01","s":668,"v":2.8,"v2":5.5},{"series":"Driver01","s":684,"v":3.0,"v2":7.3},{"series":"Driver01","s":700,"v":2.8,"v2":5.8},{"series":"Driver01","s":740,"v":3.3,"v2":5.2},{"series":"Driver01","s":765,"v":3.4,"v2":5.0},{"series":"Driver01","s":800,"v":0.8,"v2":2.8},{"series":"Driver01","s":829,"v":-1.2,"v2":0.5},{"series":"Driver01","s":860,"v":-1.5,"v2":0.0},{"series":"Driver01","s":894,"v":-1.0,"v2":0.3},{"series":"Driver01","s":910,"v":-3.5,"v2":-1.5},{"series":"Driver01","s":926,"v":-5.5,"v2":-2.8},{"series":"Driver01","s":960,"v":-4.8,"v2":-2.0},{"series":"Driver01","s":980,"v":-5.2,"v2":-2.5},{"series":"Driver01","s":1020,"v":-5.0,"v2":-3.0},{"series":"Driver01","s":1055,"v":-5.2,"v2":-3.5},{"series":"Driver01","s":1080,"v":-3.2,"v2":-1.2},{"series":"Driver01","s":1103,"v":-0.8,"v2":0.6},{"series":"Driver01","s":1140,"v":-0.3,"v2":0.9},{"series":"Driver01","s":1168,"v":-0.2,"v2":1.6},{"series":"Driver01","s":1190,"v":1.5,"v2":3.8},{"series":"Driver01","s":1216,"v":2.8,"v2":5.0},{"series":"Driver01","s":1240,"v":2.6,"v2":6.2},{"series":"Driver01","s":1260,"v":2.5,"v2":4.8},{"series":"Driver01","s":1300,"v":3.0,"v2":4.8},{"series":"Driver01","s":1345,"v":3.0,"v2":4.6},{"series":"Driver01","s":1370,"v":0.6,"v2":2.6},{"series":"Driver01","s":1394,"v":-0.8,"v2":0.4},{"series":"Driver01","s":1430,"v":-1.4,"v2":0.0},{"series":"Driver01","s":1458,"v":-1.2,"v2":0.4},{"series":"Driver01","s":1480,"v":-3.5,"v2":-1.5},{"series":"Driver01","s":1507,"v":-5.2,"v2":-3.0},{"series":"Driver01","s":1540,"v":-4.6,"v2":-2.5},{"series":"Driver01","s":1580,"v":-4.8,"v2":-2.8},{"series":"Driver01","s":1636,"v":-5.0,"v2":-3.2},{"series":"Driver01","s":1655,"v":-2.8,"v2":-0.8},{"series":"Driver01","s":1668,"v":-1.0,"v2":0.4},{"series":"Driver01","s":1700,"v":-0.4,"v2":0.8},{"series":"Driver01","s":1716,"v":-0.3,"v2":1.4},{"series":"Driver01","s":1750,"v":1.5,"v2":4.0},{"series":"Driver01","s":1781,"v":2.5,"v2":4.8},{"series":"Driver01","s":1830,"v":2.4,"v2":5.4},{"series":"Driver01","s":1880,"v":3.0,"v2":4.8},{"series":"Driver01","s":1910,"v":2.8,"v2":4.4},{"series":"Driver01","s":1935,"v":0.6,"v2":2.5},{"series":"Driver01","s":1958,"v":-1.0,"v2":0.4},{"series":"Driver01","s":1990,"v":-0.8,"v2":0.4},{"series":"Driver01","s":2006,"v":-1.2,"v2":0.0},{"series":"Driver01","s":2030,"v":-3.5,"v2":-1.5},{"series":"Driver01","s":2055,"v":-4.7,"v2":-2.8},{"series":"Driver01","s":2100,"v":-4.5,"v2":-2.5},{"series":"Driver01","s":2130,"v":-4.5,"v2":-2.0},{"series":"Driver01","s":2150,"v":-4.6,"v2":-2.8},{"series":"Driver01","s":2190,"v":-5.0,"v2":-3.2},{"series":"Driver01","s":2230,"v":-4.5,"v2":-2.5},{"series":"Driver01","s":2265,"v":-3.0,"v2":-1.0},
{"series":"Model01","s":0,"v":-0.3},{"series":"Model01","s":30,"v":-0.2},{"series":"Model01","s":55,"v":0},{"series":"Model01","s":80,"v":1.8},{"series":"Model01","s":103,"v":4.8},{"series":"Model01","s":150,"v":4.5},{"series":"Model01","s":200,"v":4.7},{"series":"Model01","s":240,"v":4.8},{"series":"Model01","s":270,"v":2.2},{"series":"Model01","s":290,"v":-0.8},{"series":"Model01","s":315,"v":-0.3},{"series":"Model01","s":340,"v":-0.2},{"series":"Model01","s":370,"v":-3.0},{"series":"Model01","s":394,"v":-5.0},{"series":"Model01","s":430,"v":-5.0},{"series":"Model01","s":480,"v":-4.8},{"series":"Model01","s":520,"v":-4.8},{"series":"Model01","s":540,"v":-2.2},{"series":"Model01","s":555,"v":-0.2},{"series":"Model01","s":590,"v":0.2},{"series":"Model01","s":620,"v":0.5},{"series":"Model01","s":645,"v":2.8},{"series":"Model01","s":668,"v":3.8},{"series":"Model01","s":700,"v":3.7},{"series":"Model01","s":740,"v":4.2},{"series":"Model01","s":765,"v":4.2},{"series":"Model01","s":800,"v":1.8},{"series":"Model01","s":829,"v":-0.3},{"series":"Model01","s":860,"v":-0.6},{"series":"Model01","s":894,"v":-0.3},{"series":"Model01","s":910,"v":-2.5},{"series":"Model01","s":926,"v":-4.0},{"series":"Model01","s":960,"v":-3.5},{"series":"Model01","s":980,"v":-4.0},{"series":"Model01","s":1020,"v":-3.9},{"series":"Model01","s":1055,"v":-4.2},{"series":"Model01","s":1080,"v":-2.2},{"series":"Model01","s":1103,"v":-0.2},{"series":"Model01","s":1140,"v":0.3},{"series":"Model01","s":1168,"v":0.5},{"series":"Model01","s":1190,"v":2.5},{"series":"Model01","s":1216,"v":3.8},{"series":"Model01","s":1260,"v":3.5},{"series":"Model01","s":1300,"v":3.9},{"series":"Model01","s":1345,"v":3.8},{"series":"Model01","s":1370,"v":1.5},{"series":"Model01","s":1394,"v":-0.2},{"series":"Model01","s":1430,"v":-0.7},{"series":"Model01","s":1458,"v":-0.4},{"series":"Model01","s":1480,"v":-2.5},{"series":"Model01","s":1507,"v":-4.0},{"series":"Model01","s":1540,"v":-3.5},{"series":"Model01","s":1580,"v":-3.8},{"series":"Model01","s":1636,"v":-4.0},{"series":"Model01","s":1655,"v":-1.8},{"series":"Model01","s":1668,"v":-0.3},{"series":"Model01","s":1700,"v":0.2},{"series":"Model01","s":1716,"v":0.4},{"series":"Model01","s":1750,"v":2.8},{"series":"Model01","s":1781,"v":3.3},{"series":"Model01","s":1830,"v":3.3},{"series":"Model01","s":1880,"v":3.8},{"series":"Model01","s":1910,"v":3.6},{"series":"Model01","s":1935,"v":1.5},{"series":"Model01","s":1958,"v":-0.3},{"series":"Model01","s":1990,"v":-0.2},{"series":"Model01","s":2006,"v":-0.6},{"series":"Model01","s":2030,"v":-2.5},{"series":"Model01","s":2055,"v":-3.8},{"series":"Model01","s":2100,"v":-3.5},{"series":"Model01","s":2150,"v":-3.6},{"series":"Model01","s":2190,"v":-4.0},{"series":"Model01","s":2230,"v":-3.5},{"series":"Model01","s":2265,"v":-2.0},
{"series":"Driver00","s":0,"v":-0.4,"v2":0.4},{"series":"Driver00","s":55,"v":-0.4,"v2":0.5},{"series":"Driver00","s":80,"v":1.0,"v2":3.2},{"series":"Driver00","s":103,"v":4.2,"v2":6.5},{"series":"Driver00","s":130,"v":4.0,"v2":7.8},{"series":"Driver00","s":150,"v":4.5,"v2":6.2},{"series":"Driver00","s":200,"v":4.3,"v2":5.8},{"series":"Driver00","s":240,"v":4.3,"v2":5.6},{"series":"Driver00","s":270,"v":1.8,"v2":3.2},{"series":"Driver00","s":297,"v":-0.5,"v2":0.8},{"series":"Driver00","s":320,"v":-0.4,"v2":0.9},{"series":"Driver00","s":345,"v":-0.9,"v2":0.4},{"series":"Driver00","s":370,"v":-4.3,"v2":-2.8},{"series":"Driver00","s":394,"v":-6.3,"v2":-4.6},{"series":"Driver00","s":420,"v":-6.5,"v2":-4.4},{"series":"Driver00","s":460,"v":-5.7,"v2":-4.2},{"series":"Driver00","s":500,"v":-5.7,"v2":-4.4},{"series":"Driver00","s":523,"v":-5.5,"v2":-4.2},{"series":"Driver00","s":540,"v":-3.2,"v2":-1.8},{"series":"Driver00","s":555,"v":-0.5,"v2":0.7},{"series":"Driver00","s":590,"v":-0.3,"v2":0.9},{"series":"Driver00","s":620,"v":-0.1,"v2":1.2},{"series":"Driver00","s":645,"v":2.2,"v2":3.8},{"series":"Driver00","s":668,"v":4.3,"v2":5.8},{"series":"Driver00","s":690,"v":4.2,"v2":6.5},{"series":"Driver00","s":740,"v":4.1,"v2":5.5},{"series":"Driver00","s":765,"v":4.0,"v2":5.4},{"series":"Driver00","s":800,"v":1.3,"v2":2.7},{"series":"Driver00","s":829,"v":-0.6,"v2":0.8},{"series":"Driver00","s":860,"v":-0.7,"v2":0.6},{"series":"Driver00","s":894,"v":-1.0,"v2":0.4},{"series":"Driver00","s":910,"v":-3.7,"v2":-2.3},{"series":"Driver00","s":926,"v":-6.0,"v2":-4.8},{"series":"Driver00","s":960,"v":-6.0,"v2":-4.5},{"series":"Driver00","s":1000,"v":-5.6,"v2":-4.2},{"series":"Driver00","s":1055,"v":-5.6,"v2":-4.2},{"series":"Driver00","s":1080,"v":-3.2,"v2":-1.8},{"series":"Driver00","s":1103,"v":-0.7,"v2":0.7},{"series":"Driver00","s":1140,"v":-0.3,"v2":0.9},{"series":"Driver00","s":1168,"v":-0.1,"v2":1.2},{"series":"Driver00","s":1190,"v":2.0,"v2":3.6},{"series":"Driver00","s":1216,"v":4.0,"v2":5.5},{"series":"Driver00","s":1245,"v":3.9,"v2":6.3},{"series":"Driver00","s":1300,"v":3.8,"v2":5.2},{"series":"Driver00","s":1345,"v":3.6,"v2":5.0},{"series":"Driver00","s":1370,"v":1.3,"v2":2.7},{"series":"Driver00","s":1394,"v":-0.7,"v2":0.7},{"series":"Driver00","s":1430,"v":-0.8,"v2":0.6},{"series":"Driver00","s":1458,"v":-1.1,"v2":0.3},{"series":"Driver00","s":1480,"v":-3.5,"v2":-2.1},{"series":"Driver00","s":1507,"v":-5.5,"v2":-4.0},{"series":"Driver00","s":1520,"v":-6.0,"v2":-3.9},{"series":"Driver00","s":1540,"v":-5.2,"v2":-3.8},{"series":"Driver00","s":1600,"v":-5.1,"v2":-3.7},{"series":"Driver00","s":1636,"v":-5.0,"v2":-3.6},{"series":"Driver00","s":1655,"v":-2.7,"v2":-1.3},{"series":"Driver00","s":1668,"v":-0.8,"v2":0.6},{"series":"Driver00","s":1700,"v":-0.5,"v2":0.9},{"series":"Driver00","s":1716,"v":-0.2,"v2":1.2},{"series":"Driver00","s":1750,"v":2.3,"v2":3.7},{"series":"Driver00","s":1781,"v":4.0,"v2":5.4},{"series":"Driver00","s":1800,"v":3.9,"v2":5.5},{"series":"Driver00","s":1830,"v":3.8,"v2":5.2},{"series":"Driver00","s":1880,"v":3.6,"v2":5.0},{"series":"Driver00","s":1910,"v":3.3,"v2":4.7},{"series":"Driver00","s":1935,"v":1.3,"v2":2.7},{"series":"Driver00","s":1958,"v":-0.7,"v2":0.7},{"series":"Driver00","s":1990,"v":-0.9,"v2":0.5},{"series":"Driver00","s":2006,"v":-1.2,"v2":0.2},{"series":"Driver00","s":2030,"v":-3.2,"v2":-1.8},{"series":"Driver00","s":2055,"v":-5.0,"v2":-3.6},{"series":"Driver00","s":2080,"v":-5.5,"v2":-3.8},{"series":"Driver00","s":2100,"v":-5.2,"v2":-3.8},{"series":"Driver00","s":2150,"v":-5.1,"v2":-3.7},{"series":"Driver00","s":2190,"v":-4.9,"v2":-3.5},{"series":"Driver00","s":2210,"v":-1.7,"v2":-0.3},{"series":"Driver00","s":2230,"v":-0.7,"v2":0.7},{"series":"Driver00","s":2265,"v":-0.5,"v2":0.9},
{"series":"Model00","s":0,"v":0},{"series":"Model00","s":55,"v":0},{"series":"Model00","s":80,"v":2.0},{"series":"Model00","s":103,"v":5.5},{"series":"Model00","s":130,"v":5.3},{"series":"Model00","s":150,"v":5.2},{"series":"Model00","s":200,"v":5.1},{"series":"Model00","s":240,"v":5.0},{"series":"Model00","s":270,"v":2.5},{"series":"Model00","s":297,"v":0.1},{"series":"Model00","s":320,"v":0.2},{"series":"Model00","s":345,"v":-0.2},{"series":"Model00","s":370,"v":-3.5},{"series":"Model00","s":394,"v":-5.5},{"series":"Model00","s":420,"v":-5.2},{"series":"Model00","s":460,"v":-4.9},{"series":"Model00","s":500,"v":-5.0},{"series":"Model00","s":523,"v":-4.8},{"series":"Model00","s":540,"v":-2.5},{"series":"Model00","s":555,"v":0.1},{"series":"Model00","s":590,"v":0.3},{"series":"Model00","s":620,"v":0.5},{"series":"Model00","s":645,"v":3.0},{"series":"Model00","s":668,"v":5.0},{"series":"Model00","s":700,"v":5.0},{"series":"Model00","s":740,"v":4.8},{"series":"Model00","s":765,"v":4.7},{"series":"Model00","s":800,"v":2.0},{"series":"Model00","s":829,"v":0.1},{"series":"Model00","s":860,"v":0.0},{"series":"Model00","s":894,"v":-0.3},{"series":"Model00","s":910,"v":-3.0},{"series":"Model00","s":926,"v":-5.4},{"series":"Model00","s":960,"v":-5.2},{"series":"Model00","s":1000,"v":-4.9},{"series":"Model00","s":1055,"v":-4.9},{"series":"Model00","s":1080,"v":-2.5},{"series":"Model00","s":1103,"v":0.0},{"series":"Model00","s":1140,"v":0.3},{"series":"Model00","s":1168,"v":0.5},{"series":"Model00","s":1190,"v":2.8},{"series":"Model00","s":1216,"v":4.7},{"series":"Model00","s":1260,"v":4.6},{"series":"Model00","s":1300,"v":4.5},{"series":"Model00","s":1345,"v":4.3},{"series":"Model00","s":1370,"v":2.0},{"series":"Model00","s":1394,"v":0.0},{"series":"Model00","s":1430,"v":-0.1},{"series":"Model00","s":1458,"v":-0.4},{"series":"Model00","s":1480,"v":-2.8},{"series":"Model00","s":1507,"v":-4.7},{"series":"Model00","s":1540,"v":-4.5},{"series":"Model00","s":1600,"v":-4.4},{"series":"Model00","s":1636,"v":-4.3},{"series":"Model00","s":1655,"v":-2.0},{"series":"Model00","s":1668,"v":-0.1},{"series":"Model00","s":1700,"v":0.2},{"series":"Model00","s":1716,"v":0.5},{"series":"Model00","s":1750,"v":3.0},{"series":"Model00","s":1781,"v":4.7},{"series":"Model00","s":1830,"v":4.5},{"series":"Model00","s":1880,"v":4.3},{"series":"Model00","s":1910,"v":4.0},{"series":"Model00","s":1935,"v":2.0},{"series":"Model00","s":1958,"v":0.0},{"series":"Model00","s":1990,"v":-0.2},{"series":"Model00","s":2006,"v":-0.5},{"series":"Model00","s":2030,"v":-2.5},{"series":"Model00","s":2055,"v":-4.3},{"series":"Model00","s":2100,"v":-4.5},{"series":"Model00","s":2150,"v":-4.4},{"series":"Model00","s":2190,"v":-4.2},{"series":"Model00","s":2210,"v":-1.0},{"series":"Model00","s":2230,"v":0.0},{"series":"Model00","s":2265,"v":0.2}
]
},
"columns": 2,
"bounds": "flush",
"spacing": {"row": 39, "column": 105},
"concat": [
{
 "width": 232, "height": 191,
 "encoding": {"x": {"field": "s", "type": "quantitative", "scale": {"domain": [0, 2212], "nice": false, "zero": false}, "axis": {"values": [0, 500, 1000, 1500, 2000], "title": null, "grid": true, "format": "d"}}},
 "layer": [
  {"data": {"name": "curv"}, "mark": {"type": "line", "strokeDash": [6, 4], "strokeWidth": 1.3, "clip": true},
   "encoding": {"y": {"field": "k", "type": "quantitative", "scale": {"domain": [-0.02, 0.02], "nice": false, "zero": false}, "axis": {"orient": "right", "values": [-0.02, -0.01, 0, 0.01, 0.02], "title": null, "grid": false, "labelExpr": "(datum.value < 0 ? '-' : '') + abs(datum.value)", "domainColor": "#808080", "labelColor": "#808080", "ticks": true, "tickColor": "#808080", "tickSize": -4, "labelPadding": 8}},
    "color": {"datum": "Curvature", "type": "nominal", "title": " ", "scale": {"domain": ["Driver01", "Model01", "Driver00", "Model00", "Curvature"], "range": ["#0072BD", "#0072BD", "#D95319", "#D95319", "#808080"]},
     "legend": {"orient": "none", "legendX": -26, "legendY": -52, "direction": "horizontal", "gridAlign": "all", "symbolSize": 400, "symbolStrokeWidth": 2.3, "labelFont": "Liberation Serif", "labelFontSize": 14.5, "labelColor": "black", "labelOffset": 19, "columnPadding": 8, "padding": 4, "strokeColor": "#262626", "fillColor": "white", "labelLimit": 200, "titleOrient": "right", "titlePadding": 104, "titleFontSize": 8,
      "encode": {"symbols": {"update": {
        "shape": {"signal": "indexof(['Driver01','Driver00'], datum.value) >= 0 ? 'M-1,-0.75H2.8V0.75H-1Z' : 'M-1,0H2.8'"},
        "fillOpacity": {"signal": "indexof(['Driver01','Driver00'], datum.value) >= 0 ? 0.5 : 0"},
        "strokeOpacity": {"signal": "indexof(['Driver01','Driver00'], datum.value) >= 0 ? 0 : 1"},
        "strokeDash": {"signal": "datum.value == 'Curvature' ? [5,4] : null"},
        "strokeWidth": {"signal": "datum.value == 'Curvature' ? 1.3 : 2.3"},
        "opacity": {"value": 1}}}}}}}},
  {"data": {"name": "vx"},
   "encoding": {"y": {"field": "v", "type": "quantitative", "scale": {"domain": [5, 30], "nice": false, "zero": false}, "axis": {"values": [5, 10, 15, 20, 25, 30], "title": "𝑣ₓ [m/s]", "grid": true, "titlePadding": 6}}},
   "layer": [
    {"transform": [{"filter": {"field": "series", "equal": "Driver01"}}], "mark": {"type": "area", "opacity": 0.5, "clip": true}, "encoding": {"y2": {"field": "v2"}, "color": {"field": "series", "type": "nominal", "title": " ", "scale": {"domain": ["Driver01", "Model01", "Driver00", "Model00", "Curvature"], "range": ["#0072BD", "#0072BD", "#D95319", "#D95319", "#808080"]}}}},
    {"transform": [{"filter": {"field": "series", "equal": "Model01"}}], "mark": {"type": "line", "strokeWidth": 2.3, "clip": true, "interpolate": "monotone"}, "encoding": {"color": {"field": "series", "type": "nominal", "title": " ", "scale": {"domain": ["Driver01", "Model01", "Driver00", "Model00", "Curvature"], "range": ["#0072BD", "#0072BD", "#D95319", "#D95319", "#808080"]}}}},
    {"transform": [{"filter": {"field": "series", "equal": "Driver00"}}], "mark": {"type": "area", "opacity": 0.5, "clip": true}, "encoding": {"y2": {"field": "v2"}, "color": {"field": "series", "type": "nominal", "title": " ", "scale": {"domain": ["Driver01", "Model01", "Driver00", "Model00", "Curvature"], "range": ["#0072BD", "#0072BD", "#D95319", "#D95319", "#808080"]}}}},
    {"transform": [{"filter": {"field": "series", "equal": "Model00"}}], "mark": {"type": "line", "strokeWidth": 2.3, "clip": true, "interpolate": "monotone"}, "encoding": {"color": {"field": "series", "type": "nominal", "title": " ", "scale": {"domain": ["Driver01", "Model01", "Driver00", "Model00", "Curvature"], "range": ["#0072BD", "#0072BD", "#D95319", "#D95319", "#808080"]}}}},
    {"data": {"name": "lim"}, "transform": [{"filter": {"field": "panel", "equal": "vx"}}], "mark": {"type": "line", "color": "black", "strokeWidth": 4, "clip": true}, "encoding": {"detail": {"field": "id"}}}
   ]}
 ],
 "resolve": {"scale": {"y": "independent"}}
},
{
 "width": 230, "height": 191,
 "encoding": {"x": {"field": "s", "type": "quantitative", "scale": {"domain": [0, 2500], "nice": false, "zero": false}, "axis": {"values": [0, 500, 1000, 1500, 2000, 2500], "title": null, "grid": true, "format": "d"}}},
 "layer": [
  {"data": {"name": "curv"}, "mark": {"type": "line", "strokeDash": [6, 4], "strokeWidth": 1.3, "clip": true},
   "encoding": {"y": {"field": "k", "type": "quantitative", "scale": {"domain": [-0.02, 0.02], "nice": false, "zero": false}, "axis": {"orient": "right", "values": [-0.02, -0.01, 0, 0.01, 0.02], "title": null, "grid": false, "labelExpr": "(datum.value < 0 ? '-' : '') + abs(datum.value)", "domainColor": "#808080", "labelColor": "#808080", "ticks": true, "tickColor": "#808080", "tickSize": -4, "labelPadding": 8}},
    "color": {"datum": "Curvature", "type": "nominal", "title": " ", "scale": {"domain": ["Driver01", "Model01", "Driver00", "Model00", "Curvature"], "range": ["#0072BD", "#0072BD", "#D95319", "#D95319", "#808080"]}}}},
  {"data": {"name": "dd"},
   "encoding": {"y": {"field": "v", "type": "quantitative", "scale": {"domain": [-2.33, 4], "nice": false, "zero": false}, "axis": {"values": [-2, 0, 2, 4], "title": "𝑑 [m]", "grid": true, "titlePadding": 17, "labelExpr": "(datum.value < 0 ? '-' : '') + abs(datum.value)"}}},
   "layer": [
    {"transform": [{"filter": {"field": "series", "equal": "Driver01"}}], "mark": {"type": "area", "opacity": 0.5, "clip": true}, "encoding": {"y2": {"field": "v2"}, "color": {"field": "series", "type": "nominal", "title": " ", "scale": {"domain": ["Driver01", "Model01", "Driver00", "Model00", "Curvature"], "range": ["#0072BD", "#0072BD", "#D95319", "#D95319", "#808080"]}}}},
    {"transform": [{"filter": {"field": "series", "equal": "Model01"}}], "mark": {"type": "line", "strokeWidth": 2.3, "clip": true, "interpolate": "monotone"}, "encoding": {"color": {"field": "series", "type": "nominal", "title": " ", "scale": {"domain": ["Driver01", "Model01", "Driver00", "Model00", "Curvature"], "range": ["#0072BD", "#0072BD", "#D95319", "#D95319", "#808080"]}}}},
    {"transform": [{"filter": {"field": "series", "equal": "Driver00"}}], "mark": {"type": "area", "opacity": 0.5, "clip": true}, "encoding": {"y2": {"field": "v2"}, "color": {"field": "series", "type": "nominal", "title": " ", "scale": {"domain": ["Driver01", "Model01", "Driver00", "Model00", "Curvature"], "range": ["#0072BD", "#0072BD", "#D95319", "#D95319", "#808080"]}}}},
    {"transform": [{"filter": {"field": "series", "equal": "Model00"}}], "mark": {"type": "line", "strokeWidth": 2.3, "clip": true, "interpolate": "monotone"}, "encoding": {"color": {"field": "series", "type": "nominal", "title": " ", "scale": {"domain": ["Driver01", "Model01", "Driver00", "Model00", "Curvature"], "range": ["#0072BD", "#0072BD", "#D95319", "#D95319", "#808080"]}}}},
    {"data": {"name": "lim"}, "transform": [{"filter": {"field": "panel", "equal": "d0"}}], "mark": {"type": "line", "color": "black", "strokeWidth": 0.8, "strokeDash": [3, 2], "clip": true}, "encoding": {"detail": {"field": "id"}}},
    {"data": {"name": "lim"}, "transform": [{"filter": {"field": "panel", "equal": "d"}}], "mark": {"type": "line", "color": "black", "strokeWidth": 4, "clip": true}, "encoding": {"detail": {"field": "id"}}}
   ]}
 ],
 "resolve": {"scale": {"y": "independent"}}
},
{
 "width": 232, "height": 191,
 "encoding": {"x": {"field": "s", "type": "quantitative", "scale": {"domain": [0, 2500], "nice": false, "zero": false}, "axis": {"values": [0, 500, 1000, 1500, 2000, 2500], "title": null, "grid": true, "format": "d"}}},
 "layer": [
  {"data": {"name": "curv"}, "mark": {"type": "line", "strokeDash": [6, 4], "strokeWidth": 1.3, "clip": true},
   "encoding": {"y": {"field": "k", "type": "quantitative", "scale": {"domain": [-0.02, 0.02], "nice": false, "zero": false}, "axis": {"orient": "right", "values": [-0.02, -0.01, 0, 0.01, 0.02], "title": null, "grid": false, "labels": false, "domainColor": "#808080", "ticks": true, "tickColor": "#808080", "tickSize": -4}},
    "color": {"datum": "Curvature", "type": "nominal", "title": " ", "scale": {"domain": ["Driver01", "Model01", "Driver00", "Model00", "Curvature"], "range": ["#0072BD", "#0072BD", "#D95319", "#D95319", "#808080"]}}}},
  {"data": {"name": "ax"},
   "encoding": {"y": {"field": "v", "type": "quantitative", "scale": {"domain": [-2, 3], "nice": false, "zero": false}, "axis": {"values": [-2, -1, 0, 1, 2, 3], "title": "𝑎ₓ [m/s²]", "grid": true, "titlePadding": 6, "labelExpr": "(datum.value < 0 ? '-' : '') + abs(datum.value)"}}},
   "layer": [
    {"transform": [{"filter": {"field": "series", "equal": "Driver01"}}], "mark": {"type": "area", "opacity": 0.5, "clip": true}, "encoding": {"y2": {"field": "v2"}, "color": {"field": "series", "type": "nominal", "title": " ", "scale": {"domain": ["Driver01", "Model01", "Driver00", "Model00", "Curvature"], "range": ["#0072BD", "#0072BD", "#D95319", "#D95319", "#808080"]}}}},
    {"transform": [{"filter": {"field": "series", "equal": "Model01"}}], "mark": {"type": "line", "strokeWidth": 2.3, "clip": true, "interpolate": "monotone"}, "encoding": {"color": {"field": "series", "type": "nominal", "title": " ", "scale": {"domain": ["Driver01", "Model01", "Driver00", "Model00", "Curvature"], "range": ["#0072BD", "#0072BD", "#D95319", "#D95319", "#808080"]}}}},
    {"transform": [{"filter": {"field": "series", "equal": "Driver00"}}], "mark": {"type": "area", "opacity": 0.5, "clip": true}, "encoding": {"y2": {"field": "v2"}, "color": {"field": "series", "type": "nominal", "title": " ", "scale": {"domain": ["Driver01", "Model01", "Driver00", "Model00", "Curvature"], "range": ["#0072BD", "#0072BD", "#D95319", "#D95319", "#808080"]}}}},
    {"transform": [{"filter": {"field": "series", "equal": "Model00"}}], "mark": {"type": "line", "strokeWidth": 2.3, "clip": true}, "encoding": {"color": {"field": "series", "type": "nominal", "title": " ", "scale": {"domain": ["Driver01", "Model01", "Driver00", "Model00", "Curvature"], "range": ["#0072BD", "#0072BD", "#D95319", "#D95319", "#808080"]}}}}
   ]}
 ],
 "resolve": {"scale": {"y": "independent"}}
},
{
 "width": 230, "height": 191,
 "encoding": {"x": {"field": "s", "type": "quantitative", "scale": {"domain": [0, 2212], "nice": false, "zero": false}, "axis": {"values": [0, 500, 1000, 1500, 2000], "title": null, "grid": true, "format": "d"}}},
 "layer": [
  {"data": {"name": "curv"}, "mark": {"type": "line", "strokeDash": [6, 4], "strokeWidth": 1.3, "clip": true},
   "encoding": {"y": {"field": "k", "type": "quantitative", "scale": {"domain": [-0.02, 0.02], "nice": false, "zero": false}, "axis": {"orient": "right", "values": [-0.02, -0.01, 0, 0.01, 0.02], "title": null, "grid": false, "labelExpr": "(datum.value < 0 ? '-' : '') + abs(datum.value)", "domainColor": "#808080", "labelColor": "#808080", "ticks": true, "tickColor": "#808080", "tickSize": -4, "labelPadding": 8}},
    "color": {"datum": "Curvature", "type": "nominal", "title": " ", "scale": {"domain": ["Driver01", "Model01", "Driver00", "Model00", "Curvature"], "range": ["#0072BD", "#0072BD", "#D95319", "#D95319", "#808080"]}}}},
  {"data": {"name": "ay"},
   "encoding": {"y": {"field": "v", "type": "quantitative", "scale": {"domain": [-10, 10], "nice": false, "zero": false}, "axis": {"values": [-10, -5, 0, 5, 10], "title": "𝑎ᵧ [m/s²]", "grid": true, "titlePadding": 6, "labelExpr": "(datum.value < 0 ? '-' : '') + abs(datum.value)"}}},
   "layer": [
    {"transform": [{"filter": {"field": "series", "equal": "Driver01"}}], "mark": {"type": "area", "opacity": 0.5, "clip": true}, "encoding": {"y2": {"field": "v2"}, "color": {"field": "series", "type": "nominal", "title": " ", "scale": {"domain": ["Driver01", "Model01", "Driver00", "Model00", "Curvature"], "range": ["#0072BD", "#0072BD", "#D95319", "#D95319", "#808080"]}}}},
    {"transform": [{"filter": {"field": "series", "equal": "Model01"}}], "mark": {"type": "line", "strokeWidth": 2.3, "clip": true, "interpolate": "monotone"}, "encoding": {"color": {"field": "series", "type": "nominal", "title": " ", "scale": {"domain": ["Driver01", "Model01", "Driver00", "Model00", "Curvature"], "range": ["#0072BD", "#0072BD", "#D95319", "#D95319", "#808080"]}}}},
    {"transform": [{"filter": {"field": "series", "equal": "Driver00"}}], "mark": {"type": "area", "opacity": 0.5, "clip": true}, "encoding": {"y2": {"field": "v2"}, "color": {"field": "series", "type": "nominal", "title": " ", "scale": {"domain": ["Driver01", "Model01", "Driver00", "Model00", "Curvature"], "range": ["#0072BD", "#0072BD", "#D95319", "#D95319", "#808080"]}}}},
    {"transform": [{"filter": {"field": "series", "equal": "Model00"}}], "mark": {"type": "line", "strokeWidth": 2.3, "clip": true, "interpolate": "monotone"}, "encoding": {"color": {"field": "series", "type": "nominal", "title": " ", "scale": {"domain": ["Driver01", "Model01", "Driver00", "Model00", "Curvature"], "range": ["#0072BD", "#0072BD", "#D95319", "#D95319", "#808080"]}}}}
   ]}
 ],
 "resolve": {"scale": {"y": "independent"}}
}
]
}
